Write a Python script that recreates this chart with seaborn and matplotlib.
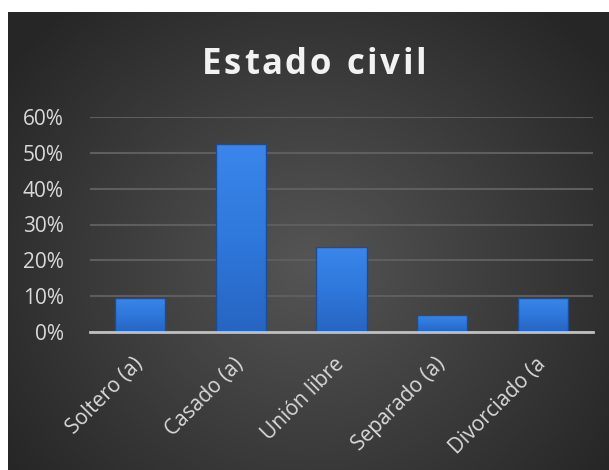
import numpy as np
import pandas as pd
import matplotlib
matplotlib.use("Agg")
import matplotlib.pyplot as plt
import seaborn as sns
from matplotlib.ticker import PercentFormatter
from matplotlib.colors import LinearSegmentedColormap

categories = ["Soltero (a)", "Casado (a)", "Unión libre", "Separado (a)", "Divorciado (a"]
values = [0.095, 0.524, 0.238, 0.048, 0.095]
yticks = [0.0, 0.1, 0.2, 0.3, 0.4, 0.5, 0.6]
title = "Estado civil"

sns.set_theme(style="white")
plt.rcParams['font.family'] = ['Open Sans', 'DejaVu Sans']

W, H = 609, 470
fig = plt.figure(figsize=(W / 100, H / 100), dpi=100, facecolor="white")

# dark background with radial gradient
bg = fig.add_axes([8 / W, 0, (W - 8) / W, (H - 12) / H])
bg.set_axis_off()
ny, nx = 300, 400
yy, xx = np.mgrid[0:ny, 0:nx]
cx, cy = nx * 0.5, ny * 0.55
r = np.sqrt(((xx - cx) / (nx * 0.62)) ** 2 + ((yy - cy) / (ny * 0.75)) ** 2)
r = np.clip(r, 0, 1)
c_in = np.array([0x55, 0x55, 0x55]) / 255
c_out = np.array([0x26, 0x26, 0x26]) / 255
img = c_in[None, None, :] * (1 - r[..., None]) + c_out[None, None, :] * r[..., None]
bg.imshow(img, aspect="auto", extent=[0, 1, 0, 1], interpolation="bilinear")
bg.set_xlim(0, 1)
bg.set_ylim(0, 1)

ax = fig.add_axes([90 / W, (H - 332) / H, (593 - 90) / W, (332 - 117) / H])
ax.patch.set_alpha(0)

df = pd.DataFrame({"cat": categories, "val": values})
sns.barplot(data=df, x="cat", y="val", color="#2E76DA", width=0.5,
            edgecolor="#1B4C94", linewidth=1.0, saturation=1, ax=ax, zorder=3)

ax.set_ylim(0, 0.6)
ax.set_xlim(-0.5, len(categories) - 0.5)

# gradient fill clipped to each bar
cmap = LinearSegmentedColormap.from_list("barg", ["#2765C2", "#2F78DC", "#3A86EA"])
grad = np.linspace(0, 1, 64).reshape(-1, 1)
for p in list(ax.patches):
    x0, y0 = p.get_x(), p.get_y()
    w, h = p.get_width(), p.get_height()
    im = ax.imshow(grad, cmap=cmap, aspect="auto", origin="lower",
                   extent=[x0, x0 + w, y0, y0 + h], zorder=3.5, interpolation="bilinear")
    im.set_clip_path(p)
    p.set_zorder(3.6)
    p.set_facecolor("none")
ax.set_aspect("auto")
ax.set_ylim(0, 0.6)
ax.set_xlim(-0.5, len(categories) - 0.5)

ax.set_yticks(yticks)
ax.yaxis.set_major_formatter(PercentFormatter(1.0, decimals=0))
ax.grid(axis="y", color="#5E5E5E", linewidth=1.5, zorder=0)
ax.set_axisbelow(True)
for s in ["top", "right", "left"]:
    ax.spines[s].set_visible(False)
ax.spines["bottom"].set_color("#BFBFBF")
ax.spines["bottom"].set_linewidth(2.0)
ax.spines["bottom"].set_zorder(4)
ax.set_xlabel("")
ax.set_ylabel("")
ax.tick_params(axis="y", length=0, pad=19, labelsize=15, labelcolor="#D9D9D9")
ax.tick_params(axis="x", length=0, pad=21, labelsize=15, labelcolor="#D9D9D9")
for lab in ax.get_xticklabels():
    lab.set_rotation(45)
    lab.set_ha("right")
    lab.set_va("center")
    lab.set_rotation_mode("anchor")
for lab in ax.get_yticklabels():
    lab.set_ha("right")

# title with letter spacing
fig.canvas.draw()
renderer = fig.canvas.get_renderer()
fs = 25
spacing = 2.6  # px
widths = []
for ch in title:
    t = fig.text(0, 0, ch if ch != " " else "n", fontsize=fs, fontweight="bold")
    bb = t.get_window_extent(renderer)
    w = bb.width if ch != " " else bb.width * 0.45
    widths.append(w)
    t.remove()
total = sum(widths) + spacing * (len(title) - 1)
x0 = 314 - total / 2
xpos = x0
for ch, w in zip(title, widths):
    if ch != " ":
        fig.text(xpos / W, 1 - 74 / H, ch, ha="left", va="baseline", fontsize=fs,
                 fontweight="bold", color="#F2F2F2")
    xpos += w + spacing

fig.savefig("out.png", dpi=100, facecolor="white")
